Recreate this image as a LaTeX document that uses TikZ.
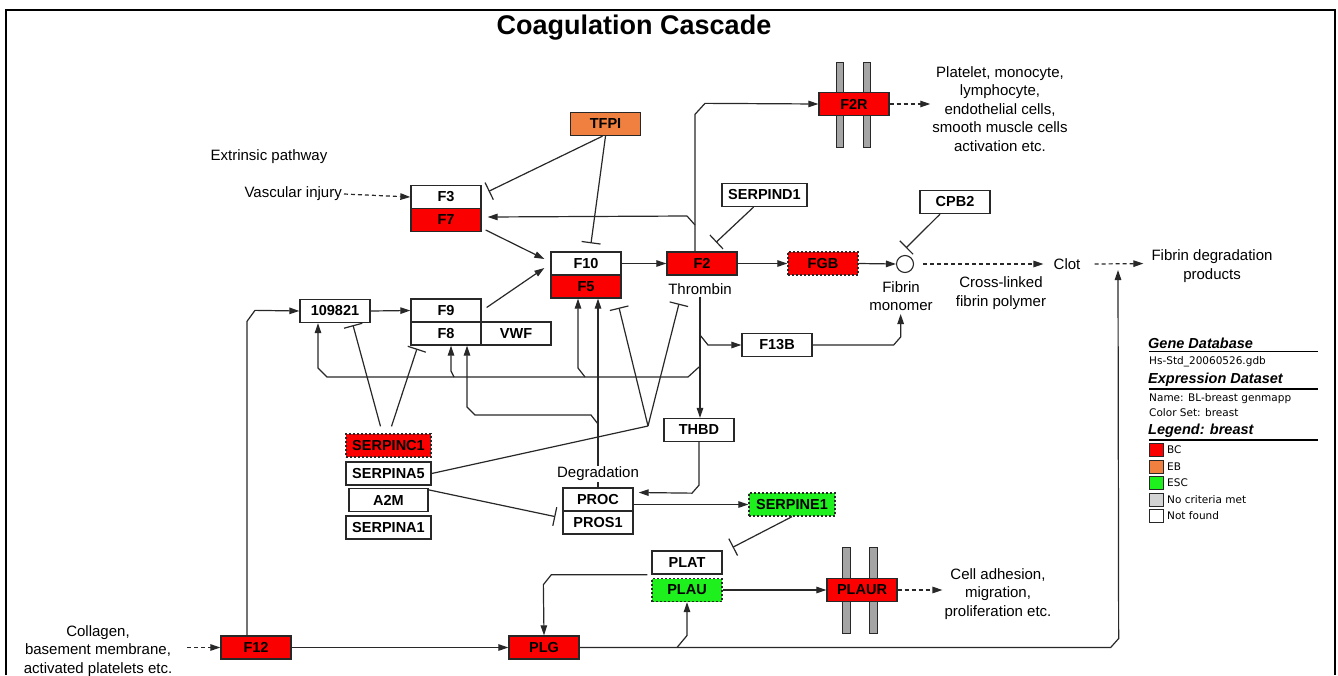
\documentclass[tikz,border=0pt]{standalone}
\usepackage{fontspec}
\setmainfont{Liberation Sans}
\newfontfamily\legfont{DejaVu Sans}
\usetikzlibrary{arrows.meta,calc}
\definecolor{gred}{RGB}{250,0,0}
\definecolor{gorange}{RGB}{240,128,64}
\definecolor{ggreen}{RGB}{30,240,30}
\definecolor{barg}{RGB}{165,165,165}
\definecolor{nocrit}{RGB}{212,212,212}
\definecolor{linec}{RGB}{40,40,40}
\tikzset{
  gene/.style={draw=linec, line width=1.3pt, minimum width=70pt, minimum height=23pt, inner sep=0pt,
    font=\fontsize{14.5}{14.5}\selectfont\bfseries, fill=white},
  redg/.style={gene, fill=gred},
  greeng/.style={gene, fill=ggreen, dash pattern=on 2pt off 2pt},
  dashg/.style={dash pattern=on 2pt off 2pt},
  conn/.style={draw=linec, line width=1.2pt},
  act/.style={conn, -{Triangle[length=10pt,width=6.5pt]}},
  inh/.style={conn, -{Bar[width=19pt,line width=1.2pt]}},
  dact/.style={act, dash pattern=on 4pt off 3pt},
  lbl/.style={font=\fontsize{15}{18.5}\selectfont, align=center, inner sep=2pt},
  membar/.style={draw=linec, fill=barg, line width=1pt},
  legh/.style={anchor=west, inner sep=0pt, font=\fontsize{14.5}{15}\selectfont\bfseries\itshape},
  legt/.style={anchor=west, inner sep=0pt, font=\legfont\fontsize{10.5}{11}\selectfont},
  swatch/.style={draw=linec, line width=1pt},
}
\begin{document}
\begin{tikzpicture}[x=1pt,y=-1pt]
\useasboundingbox (0,0) rectangle (1338,675);
\fill[white] (0,0) rectangle (1338,675);
\draw[line width=1.2pt] (6,675) -- (6,10) -- (1335,10) -- (1335,675);

\node[font=\fontsize{27}{27}\selectfont\bfseries] (title) at (634,28) {Coagulation Cascade};

% membrane bars
\draw[membar] (836,62) rectangle (843,147);
\draw[membar] (863,62) rectangle (870,147);
\draw[membar] (842,547) rectangle (850,633);
\draw[membar] (869,547) rectangle (877,633);

% gene boxes
\node[gene, fill=gorange] (TFPI) at (605.5,124) {TFPI};
\node[gene] (F3) at (446,197) {F3};
\node[redg] (F7) at (446,220) {F7};
\node[gene] (F10) at (586,263.5) {F10};
\node[redg] (F5) at (586,286.5) {F5};
\node[redg] (F2) at (702,263.5) {F2};
\node[redg, dashg] (FGB) at (823,263.5) {FGB};
\node[draw=linec, line width=1.1pt, circle, minimum size=17pt, inner sep=0pt] (circ) at (905,264) {};
\node[gene, minimum width=85pt] (SERPIND1) at (764.5,195) {SERPIND1};
\node[gene] (CPB2) at (955,202) {CPB2};
\node[redg] (F2R) at (854,104) {F2R};
\node[gene] (n109821) at (335,311) {109821};
\node[gene] (F9) at (446,310.5) {F9};
\node[gene] (F8) at (446,333.5) {F8};
\node[gene] (VWF) at (516,333.5) {VWF};
\node[gene] (F13B) at (777,345) {F13B};
\node[gene] (THBD) at (699,430) {THBD};
\node[redg, dashg, minimum width=85pt] (SERPINC1) at (388.5,445.5) {SERPINC1};
\node[gene, minimum width=85pt] (SERPINA5) at (388.5,473.5) {SERPINA5};
\node[gene, minimum width=79pt] (A2M) at (388.5,500) {A2M};
\node[gene, minimum width=85pt] (SERPINA1) at (388.5,527.5) {SERPINA1};
\node[gene] (PROC) at (598,499.5) {PROC};
\node[gene] (PROS1) at (598,522.5) {PROS1};
\node[greeng, minimum width=86pt] (SERPINE1) at (792,504.5) {SERPINE1};
\node[gene] (PLAT) at (687,562.5) {PLAT};
\node[greeng] (PLAU) at (687,590) {PLAU};
\node[redg] (PLAUR) at (862,590) {PLAUR};
\node[redg] (F12) at (256,647.5) {F12};
\node[redg] (PLG) at (544,647.5) {PLG};

% text labels
\node[lbl] (extr) at (269,157) {Extrinsic pathway};
\node[lbl, anchor=east] (vasc) at (344,194) {Vascular injury};
\node[lbl] (f2rtxt) at (1000,109) {Platelet, monocyte,\\lymphocyte,\\endothelial cells,\\smooth muscle cells\\activation etc.};
\node[lbl] (thr) at (700,289) {Thrombin};
\node[lbl] (fmono) at (901,296) {Fibrin\\monomer};
\node[lbl] (cross) at (1001,293) {Cross-linked\\fibrin polymer};
\node[lbl] (clot) at (1067,264) {Clot};
\node[lbl] (fdp) at (1212,266) {Fibrin degradation\\products};
\node[lbl] (celltxt) at (998,594) {Cell adhesion,\\migration,\\proliferation etc.};
\node[lbl] (colltxt) at (98,651) {Collagen,\\basement membrane,\\activated platelets etc.};

% branch points
\coordinate (b1) at (695,225);
\coordinate (b2) at (700,335);
\coordinate (b3) at (699,367);
\coordinate (b4) at (598,424);
\coordinate (b5) at (677,647.5);
\coordinate (v) at (648,426);
\coordinate (cfd) at (1118,270);

% connectors
\draw[dact] (vasc.east) -- (F3.west);
\draw[inh] ($(TFPI.south)+(-3,0)$) -- ($(F3.north east)+(7,6.5)$);
\draw[inh] (TFPI.south) -- ($(F10.north)+(5,-8)$);
\draw[act] ($(F7.east)+(4,10)$) -- ($(F10.west)+(-6,-4.5)$);
\draw[act] ($(F9.east)+(5,-3)$) -- ($(F10.west)+(-6,4.5)$);
\draw[act] (F10.east) -- (F2.west);
\draw[act] (F2.east) -- (FGB.west);
\draw[act] (FGB.east) -- (circ.west);
\draw[dact] ($(circ.east)+(9,0)$) -- ($(clot.west)+(-8,0)$);
\draw[dact] ($(clot.east)+(12,0)$) -- ($(fdp.north west)+(-6,16)$);
\draw[inh] ($(SERPIND1.south)+(-11,0)$) -- ($(F2.north)+(14,-9)$);
\draw[inh] ($(CPB2.south)+(-15,0)$) -- ($(circ.north)+(1,-7)$);
\draw[act] ($(F2.north)+(-7,0)$) -- ++(0,-137) -- ++(10,-11) -- (F2R.west);
\draw[conn] (b1) -- ++(-8,-9) coordinate (b1a);
\draw[act] (b1a) -- ($(F7.east)+(6,-3)$);
\draw[dact] (F2R.east) -- ($(f2rtxt.west)+(0,-5)$);
\draw[act] (thr.south) -- (thr.south |- THBD.north);
\draw[act] (b2) -- ++(8,10) -- (F13B.west);
\draw[act] (F13B.east) -- ++(81,0) -- ++(7,-8) -- ++(0,-23);
\draw[act] (b3) -- ++(-11,10) -- (327,377) -- (318,368) -- ($(n109821.south)+(-17,0)$);
\draw[act] (585,377) -- ++(-7,-9) -- ($(F5.south)+(-8,0)$);
\draw[act] (454,377) -- ++(-3,-6) -- ($(F8.south)+(5,0)$);
\draw[act] (PROC.north) -- ($(F5.south)+(12,0)$);
\draw[act] (b4) -- ++(-7,-9) -- (475,415) -- (467,407) -- ($(F8.south)+(21,0)$);
\node[lbl, fill=white, inner sep=1pt] (degr) at (598,474) {Degradation};
\draw[inh] ($(SERPINC1.north)+(-8,-7)$) -- ($(n109821.south)+(18,2)$);
\draw[inh] ($(SERPINC1.north)+(3,-7)$) -- ($(F8.south)+(-29,3)$);
\draw[conn] (SERPINA5.east) -- (v);
\draw[inh] (v) -- ($(F5.south)+(33,9)$);
\draw[inh] (v) -- ($(F2.south)+(-23,28)$);
\draw[inh] ($(A2M.north east)+(0,2)$) -- ($(PROC.south west)+(-7,5)$);
\draw[act] (THBD.south) -- ++(0,43) -- ++(-7,8) -- ($(PROC.east)+(5,-7)$);
\draw[act] ($(PROC.east)+(0,5)$) -- (SERPINE1.west);
\draw[inh] (SERPINE1.south) -- ($(PLAT.north east)+(10,-3)$);
\draw[act] ($(PLAT.south west)+(-4,0)$) -- ++(-96,0) -- ++(-8,10) -- (PLG.north);
\draw[dact] ($(F12.west)+(-33,0)$) -- (F12.west);
\draw[act] (F12.east) -- (PLG.west);
\draw[act] ($(F12.north)+(-9,0)$) -- ++(0,-314) -- ++(8,-11) -- (n109821.west);
\draw[act] (n109821.east) -- (F9.west);
\draw[act] (PLG.east) -- ++(531,0) -- ++(8,-9) -- (cfd);
\draw[act] (b5) -- ++(10,-12) -- (PLAU.south);
\draw[act] (PLAU.east) -- (PLAUR.west);
\draw[dact] (PLAUR.east) -- ($(celltxt.west)+(0,-4)$);

% legend
\node[legh] (lg1) at (1148,343) {Gene Database};
\draw[line width=1.8pt] (1149,351.5) -- (1318,351.5);
\node[legt] (lg2) at (1149,362) {Hs-Std\_20060526.gdb};
\node[legh] (lg3) at (1148,380) {Expression Dataset};
\draw[line width=1.8pt] (1149,389) -- (1318,389);
\node[legt] (lg4) at (1149,399) {Name: BL-breast genmapp};
\node[legt] (lg5) at (1149,413) {Color Set: breast};
\node[legh] (lg6) at (1148,431) {Legend: breast};
\draw[line width=1.8pt] (1149,440) -- (1318,440);
\draw[swatch, fill=gred] (1149,443.5) rectangle (1163,456.5);
\node[legt] (l1) at (1167,450) {BC};
\draw[swatch, fill=gorange] (1149,460) rectangle (1163,473);
\node[legt] (l2) at (1167,466.5) {EB};
\draw[swatch, fill=ggreen] (1149,476.5) rectangle (1163,489.5);
\node[legt] (l3) at (1167,483) {ESC};
\draw[swatch, fill=nocrit] (1149,493) rectangle (1163,506);
\node[legt] (l4) at (1167,499.5) {No criteria met};
\draw[swatch, fill=white] (1149,509.5) rectangle (1163,522.5);
\node[legt] (l5) at (1167,516) {Not found};
\end{tikzpicture}
\end{document}
